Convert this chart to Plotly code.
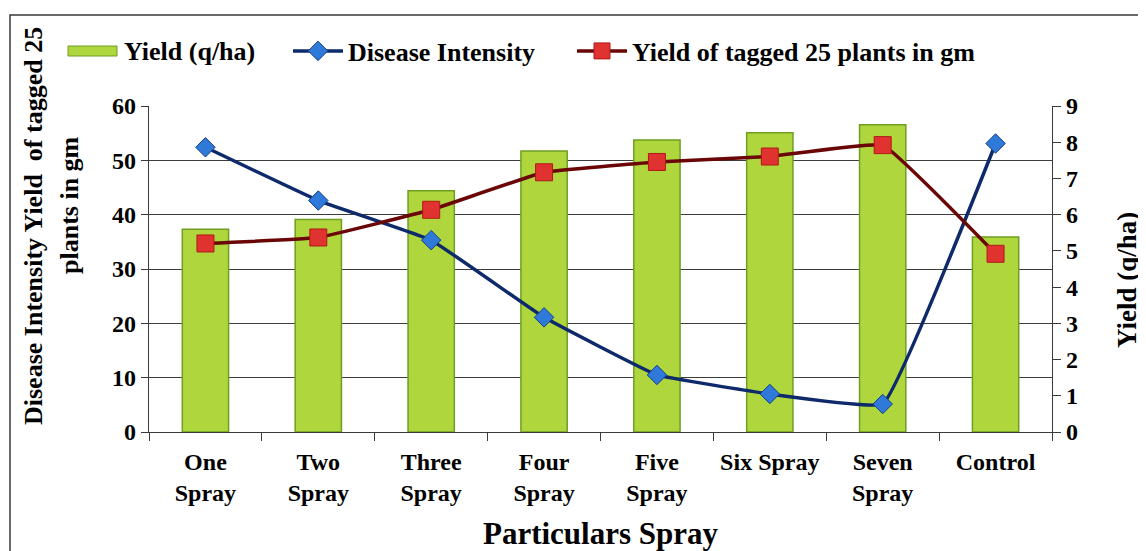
import plotly.graph_objects as go

categories = ["One<br>Spray", "Two<br>Spray", "Three<br>Spray", "Four<br>Spray",
              "Five<br>Spray", "Six Spray", "Seven<br>Spray", "Control"]
yield_qha = [5.6, 5.87, 6.66, 7.76, 8.06, 8.26, 8.48, 5.38]
disease_intensity = [52.4, 42.6, 35.3, 21.1, 10.5, 7.0, 5.15, 53.1]
yield_tagged = [34.7, 35.8, 40.9, 47.8, 49.7, 50.7, 52.8, 32.8]

FONT = "Liberation Serif, Times New Roman, serif"
AX = "#3a3a3a"

OFF = 8  # page body margin
W, H = 1146 - OFF, 551 - OFF
# plot area in page pixels: x 149..1052, y 106..432
L, T = 149 - OFF, 106 - OFF
R, B = W - (1052 - OFF), H - (432 - OFF)
pw, ph = W - L - R, H - T - B

def px(x):  # page x -> paper
    return (x - OFF - L) / pw

def py(y):  # page y -> paper
    return (H - B - (y - OFF)) / ph

fig = go.Figure()

fig.add_trace(go.Bar(
    x=categories, y=yield_qha, name="Yield (q/ha)", yaxis="y",
    marker=dict(color="#AFD73D", line=dict(color="#6E9E22", width=1.5)),
    showlegend=False,
))

fig.add_trace(go.Scatter(
    x=categories, y=disease_intensity, name="Disease Intensity", yaxis="y2",
    mode="lines+markers", line=dict(color="#0E2A6B", width=3.5, shape="spline", smoothing=0.25),
    marker=dict(symbol="diamond", size=15, color="#2F7AD8", line=dict(color="#173E8C", width=1)),
    legend="legend2",
))

fig.add_trace(go.Scatter(
    x=categories, y=yield_tagged, name="Yield of tagged 25 plants in gm", yaxis="y2",
    mode="lines+markers", line=dict(color="#6A0606", width=3.5, shape="spline", smoothing=0.25),
    marker=dict(symbol="square", size=17, color="#E0322E", line=dict(color="#B01A1A", width=1)),
    legend="legend3",
))

tickfont = dict(family=FONT, size=24, color="black", weight="bold")
legfont = dict(family=FONT, size=26, color="black", weight="bold")

fig.update_layout(
    width=W, height=H,
    margin=dict(l=L, r=R, t=T, b=B, autoexpand=False),
    paper_bgcolor="white", plot_bgcolor="white",
    bargap=0.59,
    xaxis=dict(
        type="category", tickfont=tickfont, tickangle=0, showline=True, linecolor=AX, linewidth=1.2,
        ticks="outside", tickson="boundaries", ticklen=8, tickcolor=AX, showgrid=False,
        ticklabelstandoff=8,
        title=dict(text="Particulars Spray", font=dict(family=FONT, size=31, color="black", weight="bold"), standoff=18),
    ),
    yaxis=dict(
        side="right", range=[0, 9], dtick=1, tickfont=tickfont, showgrid=False,
        showline=True, linecolor=AX, linewidth=1.2, ticks="outside", ticklen=8, tickcolor=AX,
        zeroline=False,
    ),
    yaxis2=dict(
        overlaying="y", side="left", range=[0, 60], dtick=10, tickfont=tickfont,
        showgrid=True, gridcolor="#3c3c3c", gridwidth=1.2,
        showline=True, linecolor=AX, linewidth=1.2, ticks="outside", ticklen=7, tickcolor=AX,
        zeroline=False,
    ),
    legend2=dict(orientation="h", x=px(288), y=py(51), xanchor="left", yanchor="middle",
                 font=legfont, bgcolor="rgba(0,0,0,0)", itemwidth=50),
    legend3=dict(orientation="h", x=px(572), y=py(51), xanchor="left", yanchor="middle",
                 font=legfont, bgcolor="rgba(0,0,0,0)", itemwidth=50),
)

# legend entry for the bar series (wide rectangle swatch)
fig.add_shape(type="rect", xref="paper", yref="paper",
              x0=px(68), x1=px(117), y0=py(56), y1=py(46),
              fillcolor="#AFD73D", line=dict(color="#6E9E22", width=1))
fig.add_annotation(xref="paper", yref="paper", x=px(122), y=py(51), xanchor="left", yanchor="middle",
                   text="Yield (q/ha)", showarrow=False, font=legfont)

# outer frame
fig.add_shape(type="rect", xref="paper", yref="paper",
              x0=px(10), x1=px(1170), y0=py(580), y1=py(15),
              line=dict(color="#3a3a3a", width=1.5), fillcolor="rgba(0,0,0,0)", layer="below")

# axis titles
titlefont = dict(family=FONT, size=26, color="black", weight="bold")
fig.add_annotation(xref="paper", yref="paper", x=px(33), y=py(226), xanchor="center", yanchor="middle",
                   text="Disease Intensity Yield  of tagged 25", textangle=-90,
                   showarrow=False, font=titlefont)
fig.add_annotation(xref="paper", yref="paper", x=px(69), y=py(205), xanchor="center", yanchor="middle",
                   text="plants in gm", textangle=-90,
                   showarrow=False, font=titlefont)
fig.add_annotation(xref="paper", yref="paper", x=px(1127), y=py(280), xanchor="center", yanchor="middle",
                   text="Yield (q/ha)", textangle=-90,
                   showarrow=False, font=dict(family=FONT, size=27, color="black", weight="bold"))

fig.write_html("out.html")
